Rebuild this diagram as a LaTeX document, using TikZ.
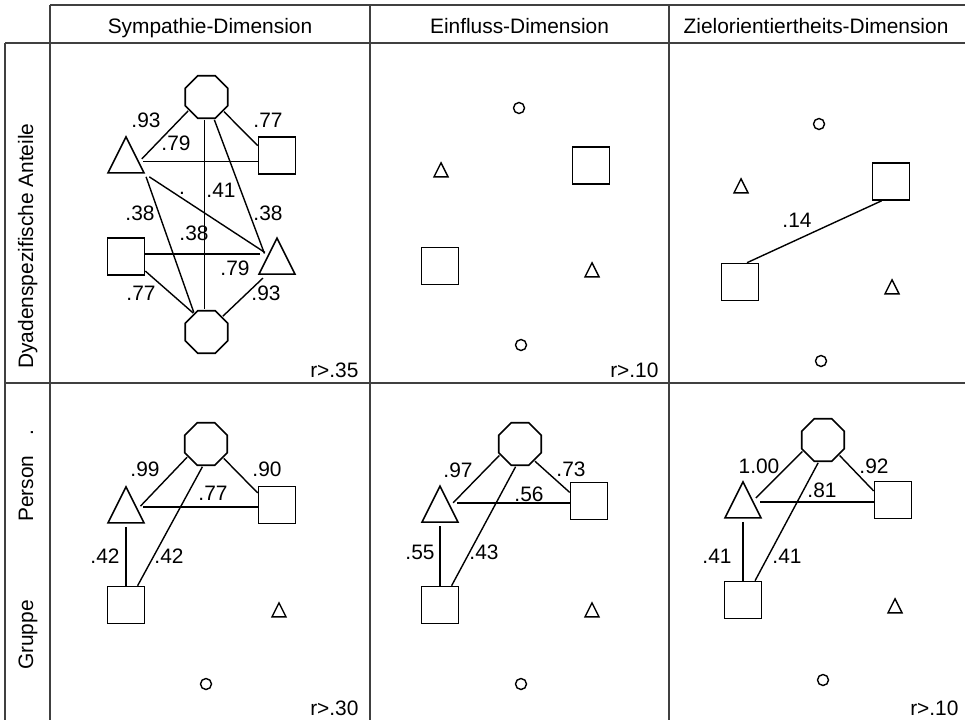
\documentclass[tikz,border=0pt]{standalone}
\usepackage{fontspec}
\setmainfont{Liberation Sans}
\usetikzlibrary{shapes.geometric}

\begin{document}
\begin{tikzpicture}[x=1pt,y=-1pt,
  font=\fontsize{20.9}{24}\selectfont,
  sq/.style={draw,line width=1.6pt,minimum size=37pt,inner sep=0pt},
  oct/.style={draw,line width=1.6pt,regular polygon,regular polygon sides=8,
    minimum size=46pt,inner sep=0pt,outer sep=1.5pt},
  tri/.style={draw,line width=1.6pt,isosceles triangle,isosceles triangle stretches=true,
    shape border rotate=90,minimum width=36pt,minimum height=36pt,inner sep=0pt,outer sep=4pt},
  smtri/.style={draw,line width=1.4pt,isosceles triangle,isosceles triangle stretches=true,
    shape border rotate=90,minimum width=14pt,minimum height=14pt,inner sep=0pt},
  smcirc/.style={draw,circle,line width=1.4pt,minimum size=11pt,inner sep=0pt},
  tabline/.style={line width=1.4pt,black!75},
  conn/.style={line width=1.4pt}]
\useasboundingbox (0,0) rectangle (965,720);

% table
\draw[tabline] (50,5) -- (965,5);
\draw[tabline] (5,43) -- (965,43);
\draw[tabline] (5,383) -- (965,383);
\draw[tabline] (5,43) -- (5,720);
\foreach \x in {50,370,669} \draw[tabline] (\x,5) -- (\x,720);

\draw (210,33) node[anchor=base](h1) {Sympathie-Dimension} ;
\draw (519.5,33) node[anchor=base](h2) {Einfluss-Dimension} ;
\draw (816,33) node[anchor=base](h3) {Zielorientiertheits-Dimension} ;

\draw (33,246) node[rotate=90,anchor=base](r1) {Dyadenspezifische Anteile} ;
\draw (33,635) node[rotate=90,anchor=base](r2) {Gruppe} ;
\draw (33,488.5) node[rotate=90,anchor=base](r3) {Person} ;
\draw (33,433) node[rotate=90,anchor=base](r4) {.} ;

% Sympathie, dyadenspezifisch
\draw (206.5,97) node[oct](o1t) {} ;
\draw (206.5,332) node[oct](o1b) {} ;
\draw (277,155.5) node[sq](s1r) {} ;
\draw (126,256.5) node[sq](s1l) {} ;
\draw (126,161.7) node[tri](t1l) {} ;
\draw (277,263) node[tri](t1r) {} ;

\draw[conn] (o1t.217) -- (t1l.10);
\draw[conn] (t1l.east) -- (t1l.east -| s1r.west);
\draw[conn] (o1t.320) -- (s1r.153);
\draw[conn] (o1t.265) -- (o1b.95);
\draw[conn] (o1t.289) -- (t1r.143);
\draw[conn] (t1l.327) -- (t1r.139);
\draw[conn] (t1l.323) -- (o1b.123);
\draw[conn] (s1l.7.5) -- (s1l.7.5 -| t1r.west);
\draw[conn] (s1l.323) -- (o1b.125);
\draw[conn] (t1r.227) -- (o1b.44);

\draw (146,120) node(l1a) {.93} ;
\draw (176,143) node(l1b) {.79} ;
\draw (268,120) node(l1c) {.77} ;
\draw (221,190) node(l1d) {.41} ;
\draw (268,213) node(l1e) {.38} ;
\draw (182,193) node(l1f) {.} ;
\draw (194,233) node(l1g) {.38} ;
\draw (140,213) node(l1h) {.38} ;
\draw (235,268) node(l1i) {.79} ;
\draw (141,293) node(l1j) {.77} ;
\draw (266,293) node(l1k) {.93} ;
\draw (362,377) node[anchor=base east](r1a) {r>.35} ;

% Einfluss, dyadenspezifisch
\draw (519,108) node[smcirc](c2t) {} ;
\draw (441,172.5) node[smtri](t2l) {} ;
\draw (591,165.5) node[sq](s2r) {} ;
\draw (440,266) node[sq](s2l) {} ;
\draw (592,272.5) node[smtri](t2r) {} ;
\draw (521,345) node[smcirc](c2b) {} ;
\draw (662,377) node[anchor=base east](r2a) {r>.10} ;

% Zielorientiertheit, dyadenspezifisch
\draw (819,124) node[smcirc](c3t) {} ;
\draw (741,188.5) node[smtri](t3l) {} ;
\draw (891,181.5) node[sq](s3r) {} ;
\draw (740,282) node[sq](s3l) {} ;
\draw (892,289.5) node[smtri](t3r) {} ;
\draw (821,361) node[smcirc](c3b) {} ;

\draw[conn] (s3l.70) -- (s3r.244);
\draw (797,220) node(l3a) {.14} ;

% Sympathie, Person/Gruppe
\draw (206,444) node[oct](o4) {} ;
\draw (126,511.7) node[tri](t4l) {} ;
\draw (277,505) node[sq](s4r) {} ;
\draw (126,605) node[sq](s4l) {} ;
\draw (279,612.5) node[smtri](t4r) {} ;
\draw (206,684) node[smcirc](c4) {} ;

\draw[conn] (o4.215) -- (t4l.21);
\draw[conn] (s4r.186 -| t4l.east) -- (s4r.186);
\draw[conn] (o4.321) -- (s4r.148);
\draw[conn] (t4l.south) -- (s4l.north);
\draw[conn] (o4.261) -- (s4l.59);

\draw (145,469) node(l4a) {.99} ;
\draw (267,469) node(l4b) {.90} ;
\draw (213,493) node(l4c) {.77} ;
\draw (105,556) node(l4d) {.42} ;
\draw (169,556) node(l4e) {.42} ;
\draw (362,715) node[anchor=base east](r4a) {r>.30} ;

% Einfluss, Person/Gruppe
\draw (520,444) node[oct](o5) {} ;
\draw (440,511) node[tri](t5l) {} ;
\draw (589,501) node[sq](s5r) {} ;
\draw (440,605) node[sq](s5l) {} ;
\draw (592,612.5) node[smtri](t5r) {} ;
\draw (521,684) node[smcirc](c5) {} ;

\draw[conn] (o5.209) -- (t5l.32);
\draw[conn] (s5r.186 -| t5l.east) -- (s5r.186);
\draw[conn] (o5.311) -- (s5r.156);
\draw[conn] (t5l.south) -- (s5l.north);
\draw[conn] (o5.259) -- (s5l.59);

\draw (458,470) node(l5a) {.97} ;
\draw (571,469) node(l5b) {.73} ;
\draw (529,494) node(l5c) {.56} ;
\draw (420,552) node(l5d) {.55} ;
\draw (484,552) node(l5e) {.43} ;

% Zielorientiertheit, Person/Gruppe
\draw (823,440) node[oct](o6) {} ;
\draw (743,506.7) node[tri](t6l) {} ;
\draw (893,500) node[sq](s6r) {} ;
\draw (743,600) node[sq](s6l) {} ;
\draw (895,608.5) node[smtri](t6r) {} ;
\draw (823,680) node[smcirc](c6) {} ;

\draw[conn] (o6.209) -- (t6l.34);
\draw[conn] (s6r.186 -| t6l.east) -- (s6r.186);
\draw[conn] (o6.317) -- (s6r.155);
\draw[conn] (t6l.south) -- (s6l.north);
\draw[conn] (o6.258) -- (s6l.58);

\draw (759,466) node(l6a) {1.00} ;
\draw (874,466) node(l6b) {.92} ;
\draw (822,490) node(l6c) {.81} ;
\draw (717,556) node(l6d) {.41} ;
\draw (787,556) node(l6e) {.41} ;
\draw (962,715) node[anchor=base east](r6a) {r>.10} ;
\end{tikzpicture}
\end{document}
